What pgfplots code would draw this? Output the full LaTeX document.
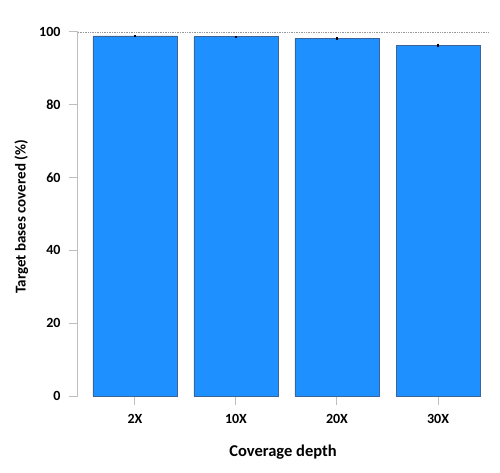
\documentclass[border=0pt]{standalone}
\usepackage{fontspec}
\setmainfont{Carlito}
\usepackage{pgfplots}
\pgfplotsset{compat=1.18}
\definecolor{barblue}{RGB}{30,144,255}
\definecolor{baredge}{RGB}{60,100,150}
\definecolor{axgray}{RGB}{190,190,190}
\begin{document}
\begin{tikzpicture}
\path[use as bounding box] (-78pt,-77pt) rectangle (422pt,396pt);
\begin{axis}[
    scale only axis,
    width=410pt, height=364pt,
    xmin=-0.564, xmax=3.495,
    ymin=0, ymax=100,
    axis lines=left,
    x axis line style={draw=none},
    y axis line style={draw=axgray, line width=1pt, -},
    ytick={0,20,40,60,80,100},
    xtick={0,1,2,3},
    xticklabels={2X,10X,20X,30X},
    tick align=outside,
    major tick length=9pt,
    tick style={axgray, line width=1pt},
    ticklabel style={font=\bfseries\fontsize{14}{16}\selectfont},
    xticklabel style={yshift=-6pt},
    yticklabel style={xshift=-5pt},
    xlabel={\bfseries Coverage depth},
    xlabel style={font=\fontsize{16.5}{19}\selectfont, at={(axis description cs:0.5,0)}, anchor=center, yshift=-56pt},
    ylabel={\bfseries Target bases covered (\%)},
    ylabel style={font=\fontsize{15}{17}\selectfont, at={(axis description cs:-0.138,0.492)}, anchor=center},
    /pgf/number format/assume math mode=true,
    clip=false,
]
\addplot[ybar, bar width=84pt, fill=barblue, draw=baredge, line width=0.6pt,
    error bars/.cd, y dir=both, y explicit,
    error bar style={black, line width=1.5pt}, error mark=none]
    coordinates {(0,98.9) +- (0,0.15) (1,98.7) +- (0,0.2) (2,98.2) +- (0,0.3) (3,96.3) +- (0,0.5)};
\addplot[axgray!80!black, densely dotted, line width=0.7pt] coordinates {(-0.564,100) (3.495,100)};
\end{axis}
\end{tikzpicture}
\end{document}
